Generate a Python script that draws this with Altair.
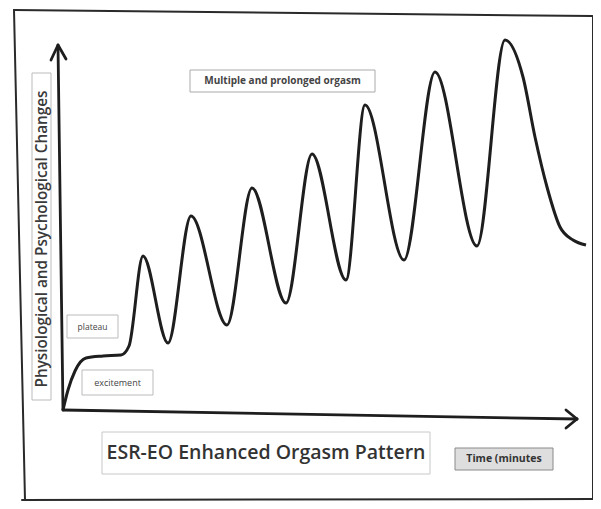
import altair as alt
import pandas as pd

# Curve: time (arbitrary units) vs level of physiological/psychological change
curve_t = [0, 0.5, 1.2, 2.3, 4.0, 5.8, 6.6, 8.0, 10.5, 12.8, 16.4, 18.9, 22.3, 24.9, 28.3, 30.2, 34.1, 37.2, 41.4, 44.2, 46.0, 47.2, 48.4, 49.7, 51.0, 52.3]
curve_v = [0, 2.0, 3.9, 5.2, 5.4, 5.5, 6.4, 15.4, 6.7, 19.4, 8.5, 22.2, 10.7, 25.6, 13.0, 30.5, 15.0, 33.8, 16.4, 37.0, 33.3, 27.3, 22.3, 18.3, 17.0, 16.5]

# Labels
box_labels = ["Multiple and prolonged orgasm", "plateau", "excitement"]
y_label = "Physiological and Psychological Changes"
title_text = "ESR-EO Enhanced Orgasm Pattern"
x_label = "Time (minutes"

# ---- layout (data units) ----
XD = [-5.5, 53.0]
YD = [-9.1, 40.2]
W, H = 585, 493

xs = alt.Scale(domain=XD, nice=False, zero=False)
ys = alt.Scale(domain=YD, nice=False, zero=False)

def seg_df(segs):
    return pd.DataFrame([{"x": a, "y": b, "x2": c, "y2": d} for a, b, c, d in segs])

def rules(segs, color, width):
    return alt.Chart(seg_df(segs)).mark_rule(color=color, strokeWidth=width, strokeCap="round").encode(
        x=alt.X("x:Q", scale=xs, axis=None), y=alt.Y("y:Q", scale=ys, axis=None),
        x2="x2:Q", y2="y2:Q")

frame = rules([(-4.9, 40.0, 52.9, 39.4), (-4.9, 40.0, -3.8, -9.0), (53.0, 39.4, 53.0, -8.9), (-4.1, -9.0, 53.0, -8.9)], "#2a2a2a", 2)
axes = rules([(0, 0, -0.5, 36.4), (-0.5, 36.5, -1.2, 35.0), (-0.5, 36.5, 0.3, 35.1),
              (0, 0, 51.4, -0.9), (51.4, -0.9, 50.3, 0.0), (51.4, -0.9, 50.3, -1.8)], "#1e1e1e", 2.8)

curve_df = pd.DataFrame({"t": curve_t, "v": curve_v})
curve = alt.Chart(curve_df).mark_line(color="#1e1e1e", strokeWidth=3, interpolate="monotone").encode(
    x=alt.X("t:Q", scale=xs, axis=None), y=alt.Y("v:Q", scale=ys, axis=None))

boxes_df = pd.DataFrame([
    {"x": 12.7, "x2": 31.2, "y": 34.0, "y2": 31.8, "fill": "#ffffff", "stroke": "#aaaaaa"},
    {"x": 0.4, "x2": 5.5, "y": 9.5, "y2": 7.2, "fill": "#ffffff", "stroke": "#bbbbbb"},
    {"x": 1.9, "x2": 9.0, "y": 4.0, "y2": 1.5, "fill": "#ffffff", "stroke": "#bbbbbb"},
    {"x": -3.1, "x2": -1.2, "y": 33.7, "y2": 1.0, "fill": "#ffffff", "stroke": "#bbbbbb"},
    {"x": 3.9, "x2": 36.7, "y": -2.2, "y2": -6.4, "fill": "#ffffff", "stroke": "#c8c8c8"},
    {"x": 39.2, "x2": 49.0, "y": -3.8, "y2": -6.0, "fill": "#dedede", "stroke": "#8a8a8a"},
])
boxes = alt.Chart(boxes_df).mark_rect(strokeWidth=1).encode(
    x=alt.X("x:Q", scale=xs, axis=None), x2="x2:Q",
    y=alt.Y("y:Q", scale=ys, axis=None), y2="y2:Q",
    fill=alt.Fill("fill:N", scale=None), stroke=alt.Stroke("stroke:N", scale=None))

def label(text, x, y, size, weight="normal", angle=0, color="#333333"):
    return alt.Chart(pd.DataFrame({"x": [x], "y": [y], "text": [text]})).mark_text(
        font="Open Sans", fontSize=size, fontWeight=weight, angle=angle, color=color,
        align="center", baseline="middle").encode(
        x=alt.X("x:Q", scale=xs, axis=None), y=alt.Y("y:Q", scale=ys, axis=None), text="text:N")

texts = [
    label(box_labels[0], 21.95, 32.9, 10, "bold", color="#444444"),
    label(box_labels[1], 2.95, 8.35, 8.5, "normal", color="#444444"),
    label(box_labels[2], 5.45, 2.7, 9, "normal", color="#444444"),
    label(y_label, -2.15, 17.1, 15.3, 600, angle=270, color="#3a3a3a"),
    label(title_text, 20.3, -4.3, 19.5, 600, color="#333333"),
    label(x_label, 44.1, -4.9, 10.5, "bold", color="#333333"),
]

chart = alt.layer(frame, boxes, axes, curve, *texts).properties(
    width=W, height=H, padding=0, autosize=alt.AutoSizeParams(type="none"),
    background="white"
).configure_view(stroke=None)

chart.save("out.html", embed_options={"renderer": "svg", "actions": False})
